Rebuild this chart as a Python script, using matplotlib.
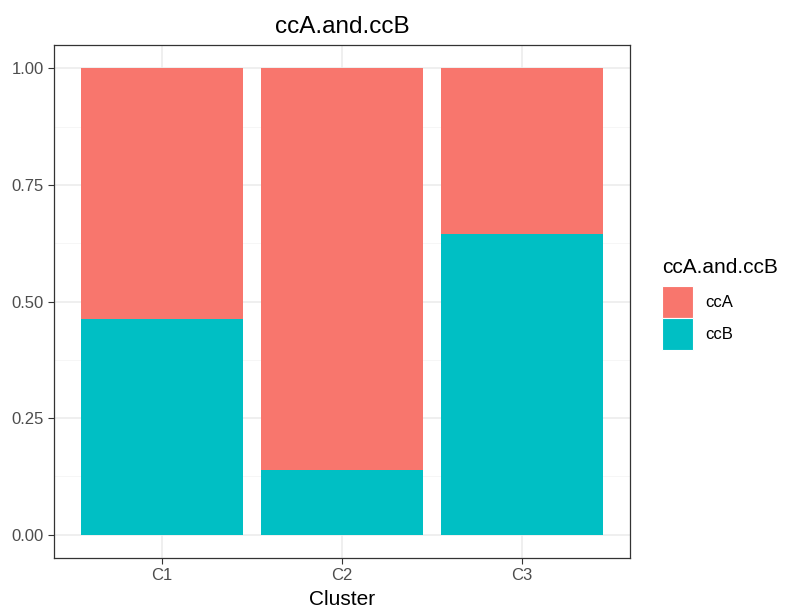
import matplotlib.pyplot as plt
import numpy as np
from matplotlib.patches import Patch

plt.rcParams['font.family'] = ['Liberation Sans', 'DejaVu Sans']

# data
clusters = ['C1', 'C2', 'C3']
ccB = [0.463, 0.139, 0.644]
ccA = [1 - v for v in ccB]
col_A = '#F8766D'
col_B = '#00BFC4'

fig = plt.figure(figsize=(7.85, 6.16), dpi=100)
ax = fig.add_axes([54/785, 1 - 558/616, (630 - 54)/785, (558 - 45)/616])

x = np.arange(1, len(clusters) + 1)
ax.bar(x, ccB, width=0.9, color=col_B, zorder=3)
ax.bar(x, ccA, width=0.9, bottom=ccB, color=col_A, zorder=3)

ax.set_xlim(0.4, 3.6)
ax.set_ylim(-0.05, 1.05)
ax.set_xticks(x)
ax.set_xticklabels(clusters)
ax.set_yticks([0, 0.25, 0.5, 0.75, 1.0])
ax.set_yticklabels(['0.00', '0.25', '0.50', '0.75', '1.00'])
ax.set_yticks([0.125, 0.375, 0.625, 0.875], minor=True)

# grid like theme_bw
ax.grid(True, which='major', color='#EBEBEB', linewidth=1.1, zorder=0)
ax.grid(True, which='minor', axis='y', color='#F5F5F5', linewidth=0.6, zorder=0)
ax.tick_params(which='minor', length=0)
ax.tick_params(which='major', length=4, color='#333333', labelcolor='#4D4D4D', labelsize=12)
for s in ax.spines.values():
    s.set_color('#333333')
    s.set_linewidth(0.9)

ax.set_xlabel('Cluster', fontsize=15, labelpad=5)
ax.set_title('ccA.and.ccB', fontsize=17.5, pad=9)

# legend (title drawn separately to control the gap)
fig.text(662/785, 1 - 267/616, 'ccA.and.ccB', fontsize=15, ha='left', va='center')
handles = [Patch(facecolor=col_A, edgecolor='white', linewidth=0.8),
           Patch(facecolor=col_B, edgecolor='white', linewidth=0.8)]
leg = fig.legend(handles, ['ccA', 'ccB'],
                 loc='upper left', bbox_to_anchor=(662/785, 1 - 286/616),
                 frameon=False, fontsize=12,
                 handlelength=1.86, handleheight=2.57, handletextpad=0.72,
                 labelspacing=0.0, borderaxespad=0, borderpad=0)

plt.savefig('out.png', dpi=100)
